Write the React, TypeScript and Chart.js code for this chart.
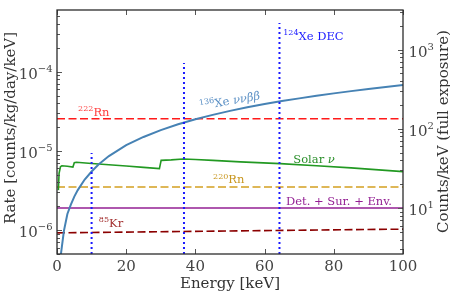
import React, { useEffect, useRef } from "react";
import { Chart, registerables } from "chart.js";

Chart.register(...registerables);

// ---------- data ----------
const X_MIN = 0;
const X_MAX = 100;
const Y_MIN = 5e-7;
const Y_MAX = 6e-4;
const COUNTS_PER_RATE = 10 / 1.9e-6; // right axis: counts/keV (full exposure)

const xTickValues = [0, 20, 40, 60, 80, 100];
const leftDecadeExponents = [-6, -5, -4];
const rightDecadeExponents = [1, 2, 3];

const xe136Energy = [1, 2, 3, 4, 5, 6, 8, 10, 12, 15, 20, 25, 30, 35, 40, 45, 50, 55, 60, 65, 70, 75, 80, 85, 90, 95, 100];
const xe136Rate = [4.5e-7, 9.8e-7, 1.6e-6, 2.1e-6, 2.65e-6, 3.2e-6, 4.35e-6, 5.5e-6, 6.75e-6, 8.6e-6, 1.18e-5, 1.5e-5, 1.83e-5, 2.17e-5, 2.51e-5, 2.85e-5, 3.2e-5, 3.55e-5, 3.9e-5, 4.25e-5, 4.6e-5, 4.96e-5, 5.32e-5, 5.68e-5, 6.04e-5, 6.4e-5, 6.78e-5];

const solarEnergy = [0.4, 0.6, 1.0, 1.4, 3.0, 4.6, 5.0, 5.6, 10, 15, 20, 25, 29.6, 30.1, 33, 36.5, 40, 45, 53, 64.5, 75, 85, 100];
const solarRate = [3.2e-6, 5.2e-6, 6.3e-6, 6.5e-6, 6.4e-6, 6.25e-6, 7.1e-6, 7.2e-6, 6.95e-6, 6.7e-6, 6.45e-6, 6.2e-6, 5.97e-6, 7.6e-6, 7.7e-6, 7.9e-6, 7.8e-6, 7.6e-6, 7.26e-6, 6.9e-6, 6.5e-6, 6.1e-6, 5.47e-6];

const rn222Rate = 2.55e-5;
const rn220Rate = 3.5e-6;
const detSurEnvRate = 1.9e-6;
const kr85Energy = [0, 100];
const kr85Rate = [9.25e-7, 1.03e-6];

const decEnergy = [10.0, 36.7, 64.3];
const decTopRate = [9.4e-6, 1.29e-4, 4.1e-4];

// ---------- styling ----------
const FONT = '"DejaVu Serif", "Liberation Serif", serif';
const C_XE = "#4682b4";
const C_XE_TXT = "#5b90c5";
const C_DEC = "#1a1aff";
const C_RN222 = "#ff1a1a";
const C_RN222_TXT = "#ff3b3b";
const C_RN220 = "#d4a020";
const C_RN220_TXT = "#c8961e";
const C_DET = "#931f93";
const C_KR = "#8b0000";
const C_KR_TXT = "#a33030";
const C_SOLAR = "#229922";
const C_SOLAR_TXT = "#2a8f2a";

type Seg = { t: string; sup?: boolean; it?: boolean };

function drawRich(
  ctx: CanvasRenderingContext2D,
  x: number,
  y: number,
  segs: Seg[],
  size: number,
  supSize: number,
  raise: number,
  color: string,
  align: "left" | "right" | "center"
) {
  const fontFor = (s: Seg) => `${s.it ? "italic " : ""}${s.sup ? supSize : size}px ${FONT}`;
  let total = 0;
  const widths = segs.map((s) => {
    ctx.font = fontFor(s);
    const w = ctx.measureText(s.t).width;
    total += w;
    return w;
  });
  let cx = align === "left" ? x : align === "right" ? x - total : x - total / 2;
  ctx.fillStyle = color;
  ctx.textAlign = "left";
  ctx.textBaseline = "alphabetic";
  segs.forEach((s, i) => {
    ctx.font = fontFor(s);
    ctx.fillText(s.t, cx, s.sup ? y - raise : y);
    cx += widths[i];
  });
}

const decorPlugin = {
  id: "decor",
  afterDatasetsDraw(chart: any) {
    const ctx: CanvasRenderingContext2D = chart.ctx;
    const xs = chart.scales.x;
    const ys = chart.scales.y;
    const px = (v: number) => xs.getPixelForValue(v);
    const py = (v: number) => ys.getPixelForValue(v);
    ctx.save();
    const A = 11.5, S = 8, R = 4.6;
    drawRich(ctx, px(6.1), py(2.77e-5), [{ t: "222", sup: true }, { t: "Rn" }], A, S, R, C_RN222_TXT, "left");
    drawRich(ctx, px(65.4), py(2.54e-4), [{ t: "124", sup: true }, { t: "Xe DEC" }], A, S, R, C_DEC, "left");
    drawRich(ctx, px(68.3), py(6.98e-6), [{ t: "Solar " }, { t: "ν", it: true }], A, S, R, C_SOLAR_TXT, "left");
    drawRich(ctx, px(45.1), py(3.9e-6), [{ t: "220", sup: true }, { t: "Rn" }], A, S, R, C_RN220_TXT, "left");
    drawRich(ctx, px(66.2), py(2.07e-6), [{ t: "Det. + Sur. + Env." }], A, S, R, C_DET, "left");
    drawRich(ctx, px(12.1), py(1.1e-6), [{ t: "85", sup: true }, { t: "Kr" }], A, S, R, C_KR_TXT, "left");
    ctx.save();
    ctx.translate(px(41.4), py(3.3e-5));
    ctx.rotate((-10 * Math.PI) / 180);
    drawRich(ctx, 0, 0, [{ t: "136", sup: true }, { t: "Xe " }, { t: "ννββ", it: true }], A, S, R, C_XE_TXT, "left");
    ctx.restore();
    ctx.restore();
  },
  afterDraw(chart: any) {
    const ctx: CanvasRenderingContext2D = chart.ctx;
    const xs = chart.scales.x;
    const ys = chart.scales.y;
    const ys2 = chart.scales.y2;
    const { left, right, top, bottom } = chart.chartArea;
    ctx.save();
    // ticks
    ctx.strokeStyle = "#555";
    ctx.lineWidth = 1;
    ctx.beginPath();
    xTickValues.forEach((v) => {
      const p = Math.round(xs.getPixelForValue(v)) + 0.5;
      ctx.moveTo(p, bottom);
      ctx.lineTo(p, bottom - 5);
      ctx.moveTo(p, top);
      ctx.lineTo(p, top + 5);
    });
    for (let e = -7; e <= -3; e++) {
      for (let m = 1; m <= 9; m++) {
        const v = m * Math.pow(10, e);
        if (v < Y_MIN || v > Y_MAX) continue;
        const p = Math.round(ys.getPixelForValue(v)) + 0.5;
        ctx.moveTo(left, p);
        ctx.lineTo(left + (m === 1 ? 5 : 3), p);
      }
    }
    for (let e = 0; e <= 4; e++) {
      for (let m = 1; m <= 9; m++) {
        const v = m * Math.pow(10, e);
        if (v < ys2.min || v > ys2.max) continue;
        const p = Math.round(ys2.getPixelForValue(v)) + 0.5;
        ctx.moveTo(right, p);
        ctx.lineTo(right - (m === 1 ? 5 : 3), p);
      }
    }
    ctx.stroke();
    // frame
    ctx.strokeStyle = "#2b2b2b";
    ctx.lineWidth = 1.3;
    ctx.strokeRect(left, top, right - left, bottom - top);

    // tick labels
    const TICK = 15, TSUP = 10;
    const tickColor = "#444";
    ctx.font = `${TICK}px ${FONT}`;
    ctx.fillStyle = tickColor;
    ctx.textAlign = "center";
    ctx.textBaseline = "alphabetic";
    xTickValues.forEach((v) => {
      ctx.fillText(String(v), xs.getPixelForValue(v), bottom + 16.5);
    });
    leftDecadeExponents.forEach((e) => {
      const p = ys.getPixelForValue(Math.pow(10, e));
      drawRich(ctx, left - 4.5, p + 7, [{ t: "10" }, { t: "−" + Math.abs(e), sup: true }], TICK, TSUP, 7, tickColor, "right");
    });
    rightDecadeExponents.forEach((e) => {
      const p = ys2.getPixelForValue(Math.pow(10, e));
      drawRich(ctx, right + 5.5, p + 7, [{ t: "10" }, { t: String(e), sup: true }], TICK, TSUP, 7, tickColor, "left");
    });

    // axis titles
    ctx.fillStyle = "#333";
    ctx.font = `15px ${FONT}`;
    ctx.textAlign = "center";
    ctx.textBaseline = "alphabetic";
    ctx.fillText("Energy [keV]", (left + right) / 2, 288);
    ctx.save();
    ctx.translate(15, 128);
    ctx.rotate(-Math.PI / 2);
    ctx.fillText("Rate [counts/kg/day/keV]", 0, 0);
    ctx.restore();
    ctx.save();
    ctx.translate(448, 131.5);
    ctx.rotate(-Math.PI / 2);
    ctx.fillText("Counts/keV (full exposure)", 0, 0);
    ctx.restore();
    ctx.restore();
  },
};

const line = (xsArr: number[], ysArr: number[]) => xsArr.map((x, i) => ({ x, y: ysArr[i] }));
const hline = (v: number) => [
  { x: X_MIN, y: v },
  { x: X_MAX, y: v },
];

export default function App() {
  const ref = useRef<HTMLCanvasElement | null>(null);
  useEffect(() => {
    document.body.style.margin = "0";
    const canvas = ref.current;
    if (!canvas) return;
    const base = { pointRadius: 0, fill: false, tension: 0, yAxisID: "y" };
    const datasets: any[] = [
      { ...base, data: line(xe136Energy, xe136Rate), borderColor: C_XE, borderWidth: 2, order: 2 },
      { ...base, data: line(solarEnergy, solarRate), borderColor: C_SOLAR, borderWidth: 1.6, order: 3 },
      { ...base, data: hline(rn222Rate), borderColor: C_RN222, borderWidth: 1.6, borderDash: [8, 3.5], order: 4 },
      { ...base, data: hline(rn220Rate), borderColor: C_RN220, borderWidth: 1.6, borderDash: [8, 3.5], order: 5 },
      { ...base, data: hline(detSurEnvRate), borderColor: C_DET, borderWidth: 1.6, order: 6 },
      { ...base, data: line(kr85Energy, kr85Rate), borderColor: C_KR, borderWidth: 1.6, borderDash: [8, 3.5], order: 7 },
      ...decEnergy.map((e, i) => ({
        ...base,
        data: [
          { x: e, y: Y_MIN },
          { x: e, y: decTopRate[i] },
        ],
        borderColor: C_DEC,
        borderWidth: 2,
        borderDash: [2, 3],
        order: 1,
      })),
    ];
    const chart = new Chart(canvas, {
      type: "line",
      data: { datasets },
      options: {
        animation: false,
        responsive: false,
        maintainAspectRatio: false,
        layout: { padding: { top: 10, left: 0, right: 0, bottom: 0 } },
        plugins: { legend: { display: false }, tooltip: { enabled: false } },
        scales: {
          x: {
            type: "linear",
            min: X_MIN,
            max: X_MAX,
            grid: { display: false },
            border: { display: false },
            ticks: { display: false },
            afterFit: (s: any) => {
              s.height = 40;
            },
          },
          y: {
            type: "logarithmic",
            position: "left",
            min: Y_MIN,
            max: Y_MAX,
            grid: { display: false },
            border: { display: false },
            ticks: { display: false },
            afterFit: (s: any) => {
              s.width = 57;
            },
          },
          y2: {
            type: "logarithmic",
            position: "right",
            display: true,
            min: Y_MIN * COUNTS_PER_RATE,
            max: Y_MAX * COUNTS_PER_RATE,
            grid: { display: false },
            border: { display: false },
            ticks: { display: false },
            afterFit: (s: any) => {
              s.width = 47;
            },
          },
        },
      } as any,
      plugins: [decorPlugin],
    });
    return () => chart.destroy();
  }, []);
  return (
    <canvas ref={ref} width={450} height={294} style={{ display: "block", width: 450, height: 294 }} />
  );
}
